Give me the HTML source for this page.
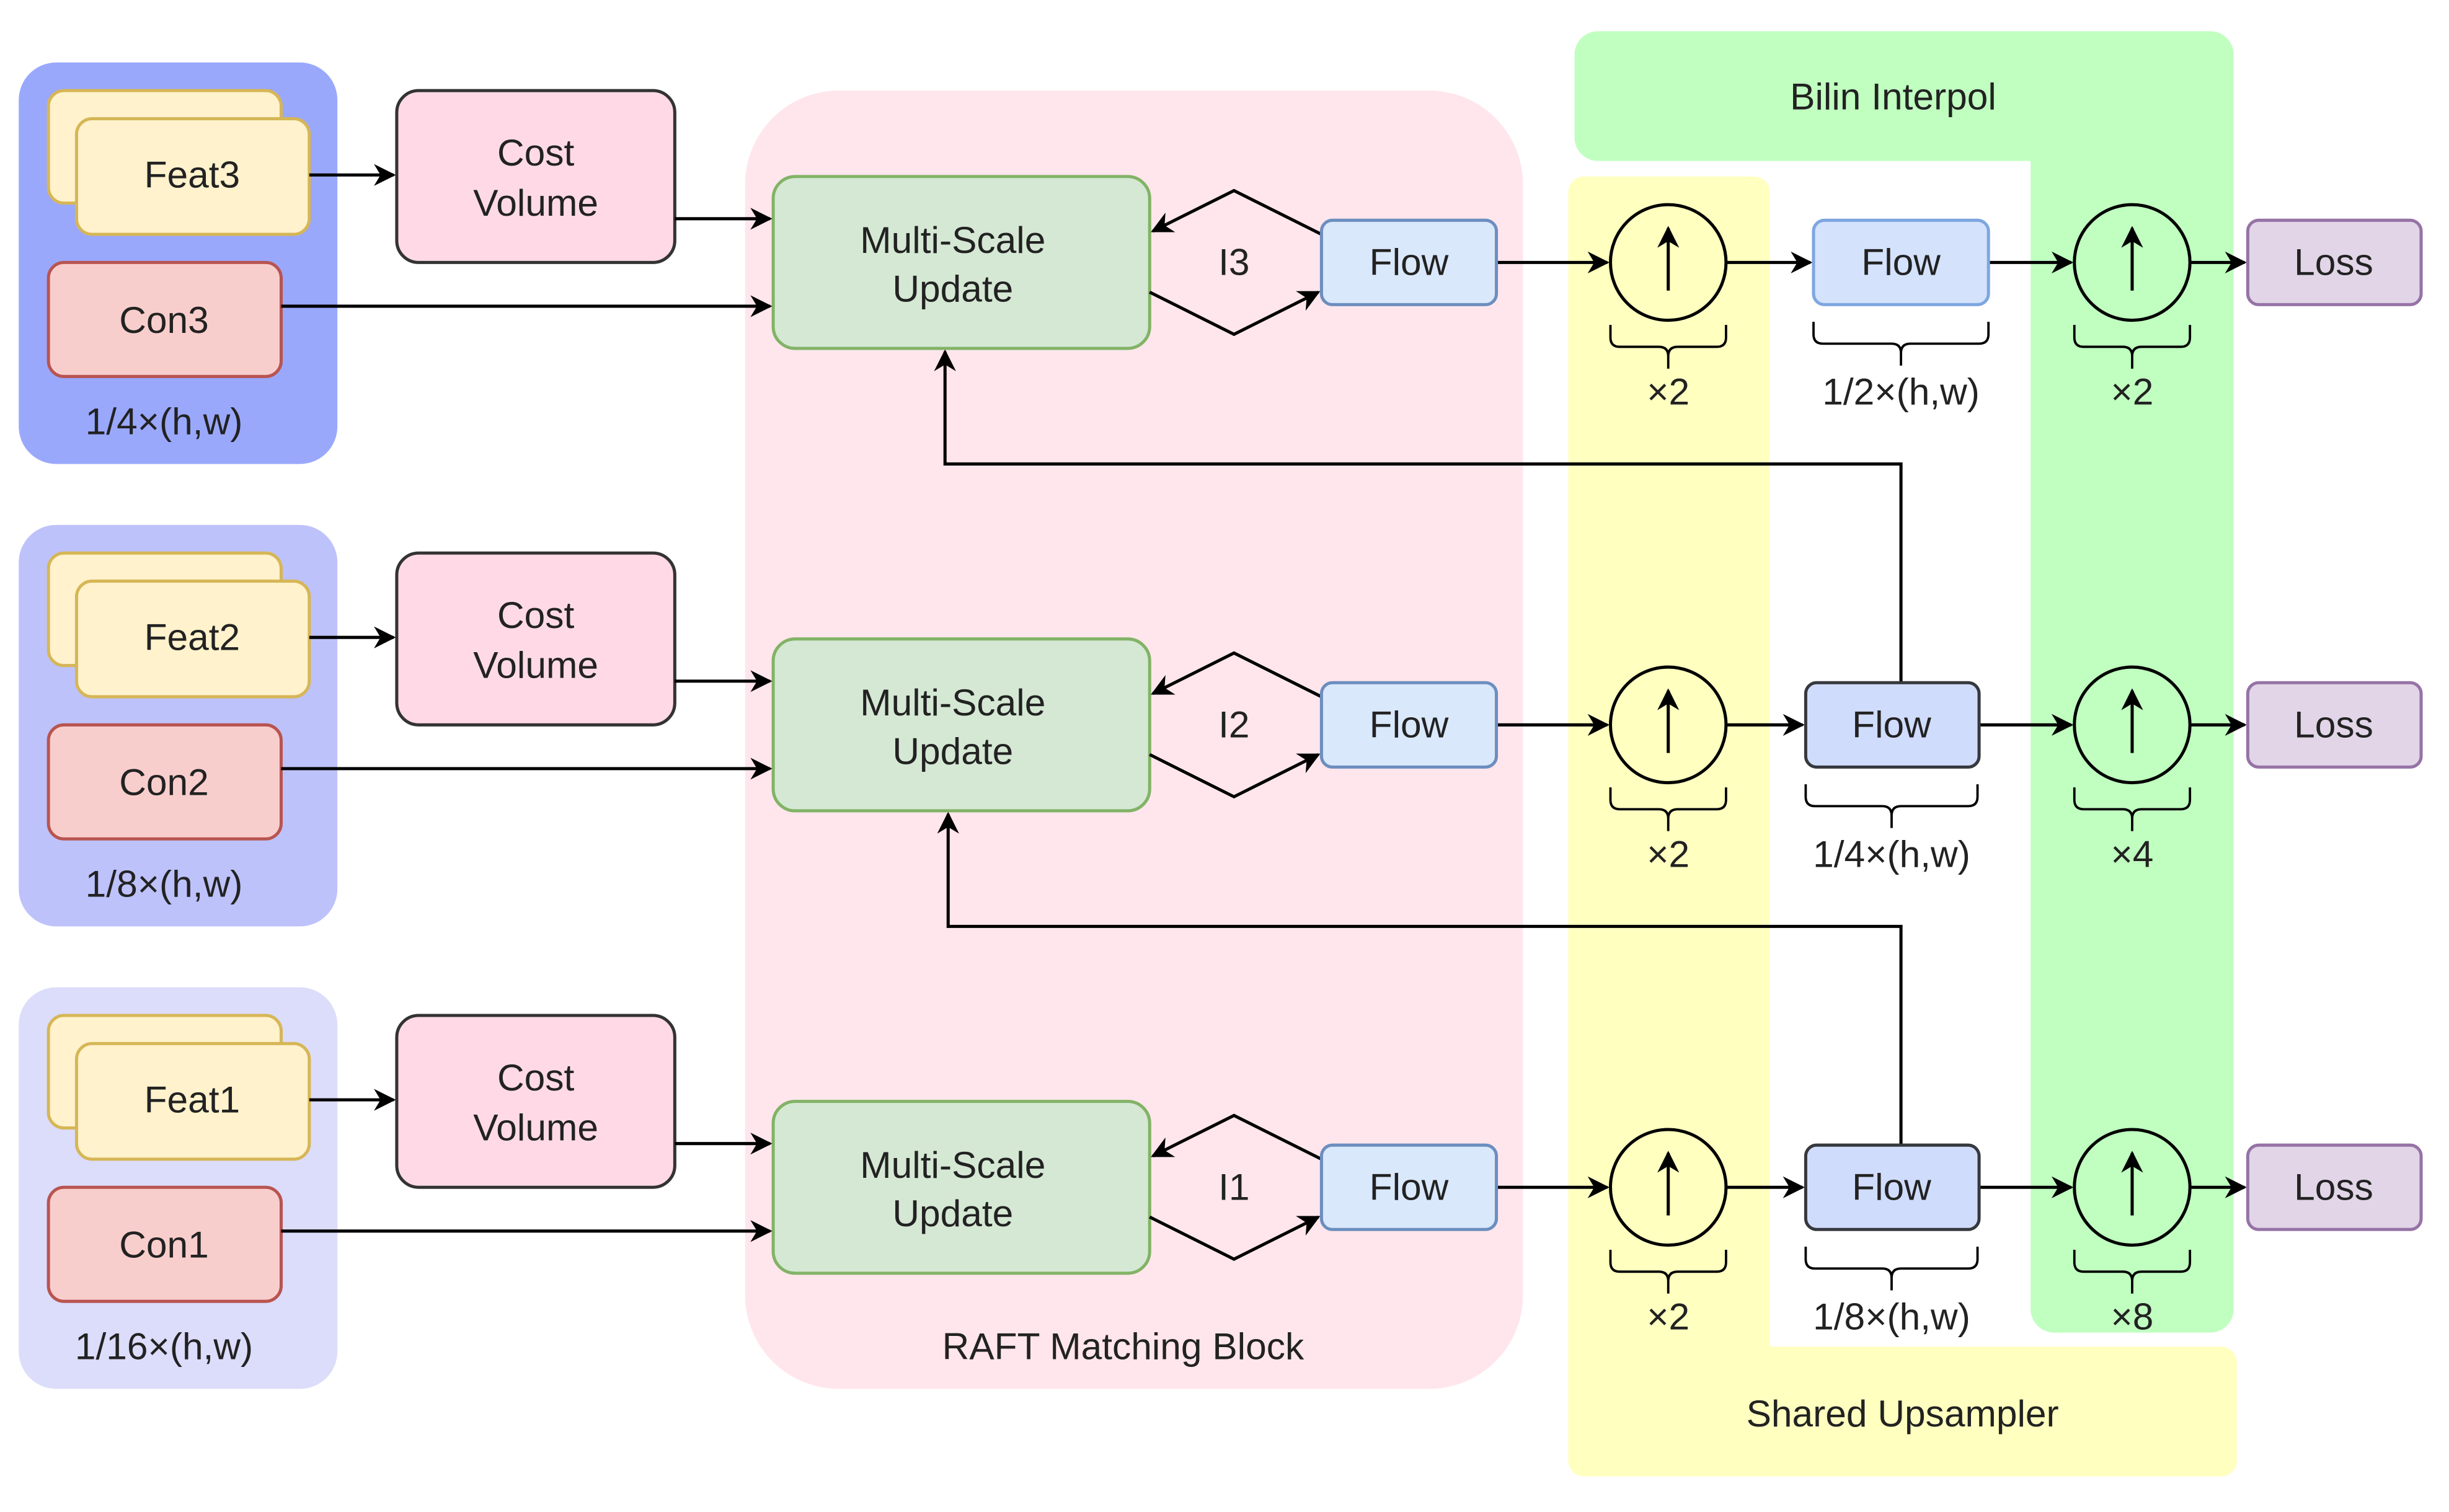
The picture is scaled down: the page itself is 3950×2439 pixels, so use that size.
<!DOCTYPE html>
<html><head><meta charset="utf-8"><style>html,body{margin:0;padding:0;background:#fff}svg{display:block}</style></head><body>
<svg width="3950" height="2439" viewBox="0 0 1560 963" preserveAspectRatio="none" xmlns="http://www.w3.org/2000/svg" font-family="Liberation Sans, sans-serif" font-size="24" fill="#222">
<defs><marker id="a" viewBox="0 0 10 10" refX="9" refY="5" markerWidth="7" markerHeight="7" orient="auto"><path d="M0,0L10,5L0,10L3,5z" fill="#000"/></marker>
<g id="r">
<rect x="31" y="58" width="149" height="72" rx="10" fill="#fff2cc" stroke="#d6b656" stroke-width="2"/>
<rect x="49" y="76" width="149" height="74" rx="10" fill="#fff2cc" stroke="#d6b656" stroke-width="2"/>
<rect x="31" y="168" width="149" height="73" rx="10" fill="#f8cecc" stroke="#b85450" stroke-width="2"/>
<rect x="254" y="58" width="178" height="110" rx="14" fill="#ffdae6" stroke="#333" stroke-width="2"/>
<text x="343" y="106" text-anchor="middle">Cost</text><text x="343" y="138" text-anchor="middle">Volume</text>
<rect x="495" y="113" width="241" height="110" rx="14" fill="#d5e8d4" stroke="#82b366" stroke-width="2"/>
<text x="610" y="162" text-anchor="middle">Multi-Scale</text><text x="610" y="193" text-anchor="middle">Update</text>
<g stroke="#000" stroke-width="2" fill="none">
<path d="M198,112H252" marker-end="url(#a)"/>
<path d="M432,140H493" marker-end="url(#a)"/>
<path d="M180,196H493" marker-end="url(#a)"/>
<path d="M846,150L790,122L738,148" marker-end="url(#a)"/>
<path d="M736,187L790,214L844,187" marker-end="url(#a)"/>
<path d="M958,168H1029" marker-end="url(#a)"/>
<path d="M1402,168H1437" marker-end="url(#a)"/>
<circle cx="1068" cy="168" r="37"/><circle cx="1365" cy="168" r="37"/>
<path d="M1068,186V146" marker-end="url(#a)"/><path d="M1365,186V146" marker-end="url(#a)"/>
<path d="M1031,208v8q0,6 6,6h25q6,0 6,6v8M1068,228q0,-6 6,-6h25q6,0 6,-6v-8" stroke-width="1.5"/>
<path d="M1328,208v8q0,6 6,6h25q6,0 6,6v8M1365,228q0,-6 6,-6h25q6,0 6,-6v-8" stroke-width="1.5"/>
</g>
<rect x="846" y="141" width="112" height="54" rx="7" fill="#dae8fc" stroke="#6c8ebf" stroke-width="2"/>
<text x="902" y="176" text-anchor="middle">Flow</text>
<rect x="1439" y="141" width="111" height="54" rx="7" fill="#e1d5e7" stroke="#9673a6" stroke-width="2"/>
<text x="1494" y="176" text-anchor="middle">Loss</text>
<text x="1068" y="259" text-anchor="middle">×2</text>
</g></defs>
<g transform="scale(0.995)">
<rect x="12" y="40" width="204" height="257" rx="24" fill="#9aa8fc"/>
<rect x="12" y="336" width="204" height="257" rx="24" fill="#bec2fb"/>
<rect x="12" y="632" width="204" height="257" rx="24" fill="#dcdcfb"/>
<rect x="477" y="58" width="498" height="831" rx="60" fill="#ffe6ec"/>
<path d="M1018,113h105a10,10 0 0 1 10,10v739h289a10,10 0 0 1 10,10v63a10,10 0 0 1 -10,10h-408a10,10 0 0 1 -10,-10v-812a10,10 0 0 1 10,-10z" fill="#ffffc0"/>
<path d="M1023,20h392a15,15 0 0 1 15,15v803a15,15 0 0 1 -15,15h-100a15,15 0 0 1 -15,-15v-735h-277a15,15 0 0 1 -15,-15v-53a15,15 0 0 1 15,-15z" fill="#c0ffc0"/>
<text x="1212" y="70" text-anchor="middle">Bilin Interpol</text>
<text x="1218" y="913" text-anchor="middle">Shared Upsampler</text>
<text x="719" y="870" text-anchor="middle">RAFT Matching Block</text>
<g stroke="#000" stroke-width="2" fill="none">
<path d="M1217,437V297H605V225" marker-end="url(#a)"/>
<path d="M1217,733V593H607V521" marker-end="url(#a)"/>
</g>
<use href="#r"/><use href="#r" y="296"/><use href="#r" y="592"/>
<text x="790" y="176" text-anchor="middle">I3</text>
<text x="123" y="120" text-anchor="middle">Feat3</text><text x="105" y="213" text-anchor="middle">Con3</text><text x="105" y="278" text-anchor="middle">1/4×(h,w)</text>
<text x="123" y="416" text-anchor="middle">Feat2</text><text x="105" y="509" text-anchor="middle">Con2</text><text x="105" y="574" text-anchor="middle">1/8×(h,w)</text>
<text x="123" y="712" text-anchor="middle">Feat1</text><text x="105" y="805" text-anchor="middle">Con1</text><text x="105" y="870" text-anchor="middle">1/16×(h,w)</text>
<text x="790" y="472" text-anchor="middle">I2</text>
<text x="790" y="768" text-anchor="middle">I1</text>
<text x="1365" y="259" text-anchor="middle">×2</text><text x="1365" y="555" text-anchor="middle">×4</text><text x="1365" y="851" text-anchor="middle">×8</text>
<g stroke="#000" stroke-width="2" fill="none">
<path d="M1105,168H1159" marker-end="url(#a)"/><path d="M1273,168H1326" marker-end="url(#a)"/>
<path d="M1105,464H1154" marker-end="url(#a)"/><path d="M1267,464H1326" marker-end="url(#a)"/>
<path d="M1105,760H1154" marker-end="url(#a)"/><path d="M1267,760H1326" marker-end="url(#a)"/>
<path d="M1161,206v8q0,6 6,6h44q6,0 6,6v8M1217,226q0,-6 6,-6h44q6,0 6,-6v-8" stroke-width="1.5"/>
<path d="M1156,502v8q0,6 6,6h43q6,0 6,6v8M1211,522q0,-6 6,-6h43q6,0 6,-6v-8" stroke-width="1.5"/>
<path d="M1156,798v8q0,6 6,6h43q6,0 6,6v8M1211,818q0,-6 6,-6h43q6,0 6,-6v-8" stroke-width="1.5"/>
</g>
<rect x="1161" y="141" width="112" height="54" rx="7" fill="#d4e2fc" stroke="#7ea6e0" stroke-width="2"/>
<text x="1217" y="176" text-anchor="middle">Flow</text><text x="1217" y="259" text-anchor="middle">1/2×(h,w)</text>
<rect x="1156" y="437" width="111" height="54" rx="7" fill="#d0dcfc" stroke="#36393d" stroke-width="2"/>
<text x="1211" y="472" text-anchor="middle">Flow</text><text x="1211" y="555" text-anchor="middle">1/4×(h,w)</text>
<rect x="1156" y="733" width="111" height="54" rx="7" fill="#d0dcfc" stroke="#36393d" stroke-width="2"/>
<text x="1211" y="768" text-anchor="middle">Flow</text><text x="1211" y="851" text-anchor="middle">1/8×(h,w)</text>
</g>
</svg>
</body></html>
